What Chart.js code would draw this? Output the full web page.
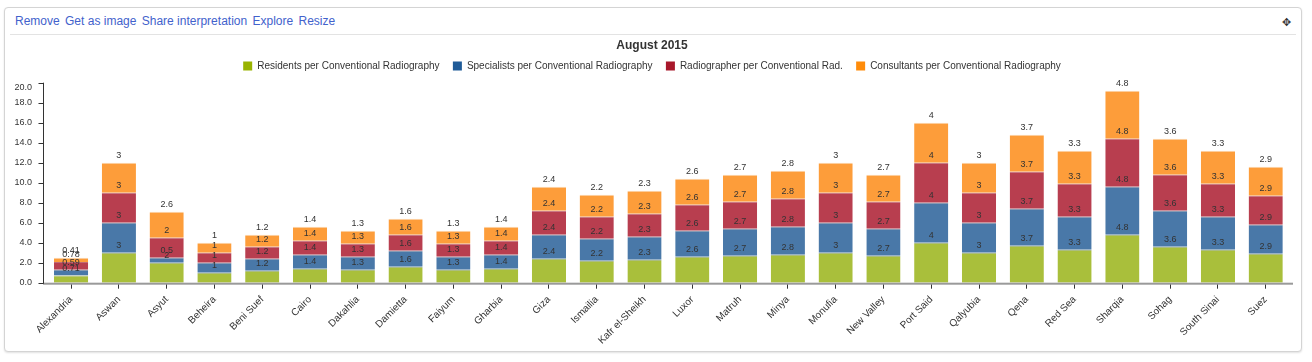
<!DOCTYPE html>
<html>
<head>
<meta charset="utf-8">
<script src="https://cdn.jsdelivr.net/npm/chart.js@4.4.1/dist/chart.umd.min.js"></script>
<style>
  html, body { margin: 0; padding: 0; background: #fff; width: 1312px; height: 362px; overflow: hidden; font-family: "Liberation Sans", Arial, sans-serif; }
  #panel { position: absolute; left: 4px; top: 7px; width: 1296px; height: 343px; border: 1px solid #d4d4d4; border-radius: 4px; box-shadow: 0 1px 2px rgba(0,0,0,0.12); background: #fff; }
  #links { position: absolute; left: 10px; top: 6px; font-size: 12px; color: #4262cc; white-space: nowrap; }
  #links span { margin-right: 2px; }
  #sep { position: absolute; left: 5px; top: 26px; width: 1286px; height: 1px; background: #e3e3e3; }
  #move { position: absolute; left: 1277px; top: 8px; font-size: 11px; color: #333; font-family: "DejaVu Sans", sans-serif; }
  #wrap { position: absolute; left: 0; top: 0; width: 1304px; height: 362px; }
</style>
</head>
<body>
<div id="panel">
  <div id="links"><span>Remove</span> <span>Get as image</span> <span>Share interpretation</span> <span>Explore</span> <span>Resize</span></div>
  <div id="move">✥</div>
  <div id="sep"></div>
</div>
<div id="wrap"><canvas id="c" width="1304" height="362"></canvas></div>
<script>
const FONT = '"Liberation Sans", Arial, sans-serif';

const categories = ['Alexandria','Aswan','Asyut','Beheira','Beni Suef','Cairo','Dakahlia','Damietta','Faiyum','Gharbia','Giza','Ismailia','Kafr el-Sheikh','Luxor','Matruh','Minya','Monufia','New Valley','Port Said','Qalyubia','Qena','Red Sea','Sharqia','Sohag','South Sinai','Suez'];

const residents    = [0.71, 3, 2,   1, 1.2, 1.4, 1.3, 1.6, 1.3, 1.4, 2.4, 2.2, 2.3, 2.6, 2.7, 2.8, 3, 2.7, 4, 3, 3.7, 3.3, 4.8, 3.6, 3.3, 2.9];
const specialists  = [0.59, 3, 0.5, 1, 1.2, 1.4, 1.3, 1.6, 1.3, 1.4, 2.4, 2.2, 2.3, 2.6, 2.7, 2.8, 3, 2.7, 4, 3, 3.7, 3.3, 4.8, 3.6, 3.3, 2.9];
const radiographers= [0.78, 3, 2,   1, 1.2, 1.4, 1.3, 1.6, 1.3, 1.4, 2.4, 2.2, 2.3, 2.6, 2.7, 2.8, 3, 2.7, 4, 3, 3.7, 3.3, 4.8, 3.6, 3.3, 2.9];
const consultants  = [0.41, 3, 2.6, 1, 1.2, 1.4, 1.3, 1.6, 1.3, 1.4, 2.4, 2.2, 2.3, 2.6, 2.7, 2.8, 3, 2.7, 4, 3, 3.7, 3.3, 4.8, 3.6, 3.3, 2.9];

const seriesNames = ['Residents per Conventional Radiography','Specialists per Conventional Radiography','Radiographer per Conventional Rad.','Consultants per Conventional Radiography'];
const yTickValues = [0, 2, 4, 6, 8, 10, 12, 14, 16, 18, 20];

const barColors    = ['#a9bf3b', '#4978a8', '#b83e4f', '#fd9d3a'];
const barTopColors = ['#93a87a', '#7f8ca3', '#c06a75', '#fcd4a9'];
const legendColors = ['#99b300', '#1f5b98', '#a8182b', '#ff8c0a'];

const seriesData = [residents, specialists, radiographers, consultants];

const datasets = seriesData.map((d, i) => ({
  label: seriesNames[i],
  data: d,
  backgroundColor: barColors[i],
  borderColor: barTopColors[i],
  borderWidth: {top: 1, left: 0, right: 0, bottom: 0},
  borderSkipped: false,
  categoryPercentage: 1,
  barPercentage: 0.715
}));

const TOP_TICK = yTickValues[yTickValues.length - 1];
// the reference draws its top tick label a few pixels below the tick mark
const TOP_LABEL_SHIFT = 0.46;

const axisPlugin = {
  id: 'axisDeco',
  afterDatasetsDraw(chart) {
    const ctx = chart.ctx, ca = chart.chartArea, y = chart.scales.y;
    const ax = Math.round(ca.left - 4.2) + 0.5;
    ctx.save();
    ctx.fillStyle = '#9a9a9a';
    ctx.fillRect(ax - 0.5, ca.bottom, (ca.right + 3.4) - (ax - 0.5), 2);
    ctx.strokeStyle = '#333';
    ctx.lineWidth = 1;
    ctx.beginPath();
    ctx.moveTo(ax, y.getPixelForValue(TOP_TICK));
    ctx.lineTo(ax, ca.bottom + 1);
    ctx.stroke();
    yTickValues.forEach(v => {
      const py = Math.round(y.getPixelForValue(v)) + 0.5;
      ctx.beginPath();
      ctx.moveTo(ax - 5, py);
      ctx.lineTo(ax, py);
      ctx.stroke();
    });
    ctx.font = '9px ' + FONT;
    ctx.fillStyle = '#333';
    ctx.textAlign = 'center';
    ctx.textBaseline = 'alphabetic';
    chart.data.datasets.forEach((ds, di) => {
      const meta = chart.getDatasetMeta(di);
      meta.data.forEach((bar, i) => {
        ctx.fillText(String(ds.data[i]), bar.x, bar.y - 4.5);
      });
    });
    ctx.restore();
  }
};

new Chart(document.getElementById('c'), {
  type: 'bar',
  data: { labels: categories, datasets },
  plugins: [axisPlugin],
  options: {
    responsive: false,
    animation: false,
    devicePixelRatio: 1,
    layout: { padding: { top: 0, left: 0, right: 0, bottom: 0 } },
    plugins: {
      tooltip: { enabled: false },
      title: {
        display: true, text: 'August 2015', color: '#333',
        font: { family: FONT, size: 12, weight: 'bold' },
        padding: { top: 38.8, bottom: 0 }
      },
      legend: {
        position: 'top',
        labels: {
          boxWidth: 9, boxHeight: 9, padding: 7.8, color: '#333',
          font: { family: FONT, size: 10 },
          generateLabels(chart) {
            return chart.data.datasets.map((ds, i) => ({
              text: ds.label + (i < chart.data.datasets.length - 1 ? '  ' : ''),
              fillStyle: legendColors[i],
              strokeStyle: legendColors[i],
              lineWidth: 0,
              fontColor: '#333',
              datasetIndex: i
            }));
          }
        }
      }
    },
    scales: {
      x: {
        stacked: true,
        offset: true,
        grid: { display: true, drawOnChartArea: false, offset: false, drawTicks: true, tickLength: 6, color: '#333', lineWidth: 1 },
        border: { display: false },
        ticks: { autoSkip: false, maxRotation: 45, minRotation: 45, padding: 5, color: '#333', font: { family: FONT, size: 10 } },
        afterFit(s) { s.height = 79.3; }
      },
      y: {
        stacked: true,
        min: 0, max: 20.17,
        grid: { display: false, drawTicks: false },
        border: { display: false },
        afterBuildTicks(s) {
          s.ticks = yTickValues.map(v => ({ value: v === TOP_TICK ? v - TOP_LABEL_SHIFT : v, label: v.toFixed(1) }));
        },
        ticks: {
          padding: 15.2, color: '#333', font: { family: FONT, size: 9 },
          callback(v, i, ticks) { return yTickValues[i].toFixed(1); }
        },
        afterFit(s) { s.width = 47.2; }
      },
      pad: {
        type: 'linear', position: 'right', display: true,
        grid: { display: false, drawTicks: false },
        border: { display: false },
        ticks: { display: false },
        afterFit(s) { s.width = 14.4; }
      }
    }
  }
});
</script>
</body>
</html>
